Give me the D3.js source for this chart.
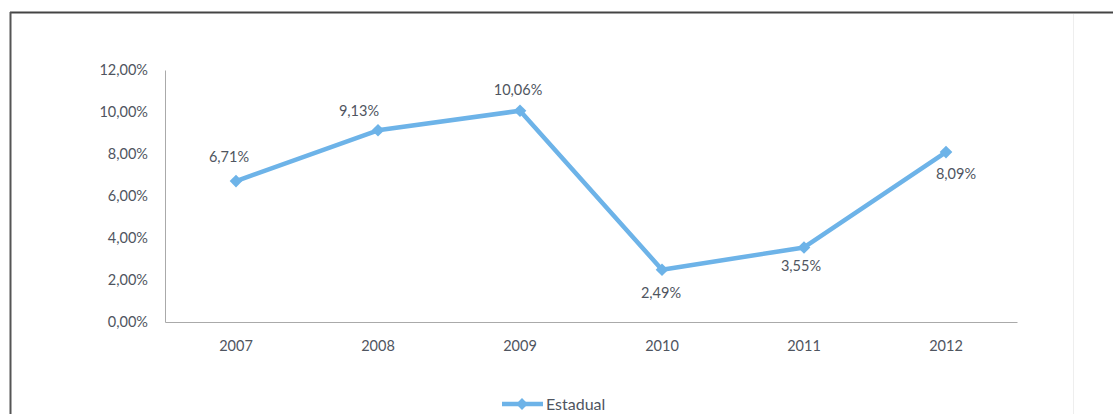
<!DOCTYPE html>
<html><head><meta charset="utf-8">
<script src="https://cdn.jsdelivr.net/npm/d3@7"></script>
<style>body{margin:0;background:#fff;overflow:hidden}svg{display:block}</style>
</head><body>
<svg id="c" width="1113" height="414"></svg>
<script>
const categories = ["2007","2008","2009","2010","2011","2012"];
const estadual = [6.71, 9.13, 10.06, 2.49, 3.55, 8.09];
const yTicks = [0, 2, 4, 6, 8, 10, 12];
const seriesName = "Estadual";

const svg = d3.select("#c");
const font = "Lato, 'Open Sans', sans-serif";
const fs = 14.5;
const textColor = "#4f5560";
const lineColor = "#6db3e8";

// frame
svg.append("line").attr("x1",10).attr("x2",1113).attr("y1",12.5).attr("y2",12.5).attr("stroke","#444").attr("stroke-width",2);
svg.append("line").attr("x1",10.5).attr("x2",10.5).attr("y1",12).attr("y2",414).attr("stroke","#555").attr("stroke-width",2);
svg.append("line").attr("x1",1073.5).attr("x2",1073.5).attr("y1",14).attr("y2",414).attr("stroke","#eee").attr("stroke-width",1);

const x = d3.scaleBand().domain(categories).range([165, 1017]);
const y = d3.scaleLinear().domain([0, 12]).range([322, 70]);

const fmt = v => d3.format(".2f")(v).replace(".", ",") + "%";

// axes
const yAxis = d3.axisLeft(y).tickValues(yTicks).tickFormat(fmt).tickSize(0).tickPadding(17);
const gy = svg.append("g").attr("transform","translate(165,0)").call(yAxis);
gy.select(".domain").attr("stroke","#aaa");
gy.selectAll("text").attr("font-family",font).attr("font-size",fs).attr("fill",textColor);

const xAxis = d3.axisBottom(x).tickSize(0).tickPadding(19);
const gx = svg.append("g").attr("transform","translate(0,322)").call(xAxis);
gx.select(".domain").attr("stroke","#aaa");
gx.selectAll("text").attr("font-family",font).attr("font-size",fs).attr("fill",textColor);

const cx = d => x(d) + x.bandwidth()/2;
const pts = categories.map((c,i)=>({c, v: estadual[i]}));

svg.append("path").datum(pts)
  .attr("d", d3.line().x(d=>cx(d.c)).y(d=>y(d.v)))
  .attr("fill","none").attr("stroke",lineColor).attr("stroke-width",4.5).attr("stroke-linejoin","round");

svg.selectAll(".mk").data(pts).join("path")
  .attr("d", d3.symbol().type(d3.symbolSquare).size(80))
  .attr("transform", d=>`translate(${cx(d.c)},${y(d.v)}) rotate(45)`)
  .attr("fill",lineColor);

// data labels
const labelOffsets = [[-7,-19],[-19,-14],[-2,-16],[-1,28],[-3,24],[10,27]];
svg.selectAll(".lb").data(pts).join("text")
  .attr("x",(d,i)=>cx(d.c)+labelOffsets[i][0])
  .attr("y",(d,i)=>y(d.v)+labelOffsets[i][1])
  .attr("text-anchor","middle")
  .attr("font-family",font).attr("font-size",fs).attr("fill",textColor)
  .text(d=>fmt(d.v));

// legend
const lg = svg.append("g");
lg.append("line").attr("x1",502).attr("x2",543).attr("y1",404).attr("y2",404).attr("stroke",lineColor).attr("stroke-width",4.5);
lg.append("path").attr("d", d3.symbol().type(d3.symbolSquare).size(70)).attr("transform","translate(522,404) rotate(45)").attr("fill",lineColor);
lg.append("text").attr("x",546).attr("y",410).attr("font-family",font).attr("font-size",16).attr("fill",textColor).text(seriesName);
</script>
</body></html>
